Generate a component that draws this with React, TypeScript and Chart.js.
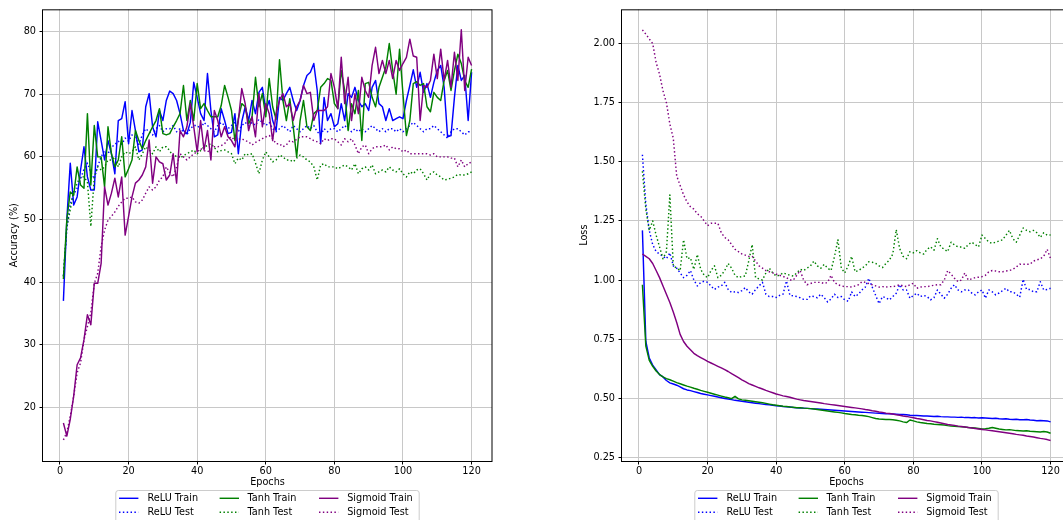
import React, { useEffect, useRef } from "react";
import { Chart, registerables } from "chart.js";

Chart.register(...registerables);

// ---- data -------------------------------------------------------------
const epochs = Array.from({ length: 120 }, (_, i) => i + 1);
const epochTicks = [0, 20, 40, 60, 80, 100, 120];
const accuracyTicks = [20, 30, 40, 50, 60, 70, 80];
const lossTicks = [0.25, 0.5, 0.75, 1.0, 1.25, 1.5, 1.75, 2.0];

const reluTrainAcc = [
  37.0, 50.0, 59.0, 52.3, 53.6, 57.9, 61.6, 56.8, 54.7, 54.7,
  65.6, 62.6, 59.5, 62.6, 60.5, 57.3, 65.8, 66.1, 68.8, 62.1,
  67.4, 64.2, 60.8, 61.1, 68.0, 70.1, 64.8, 63.2, 67.4, 65.8,
  69.0, 70.5, 70.1, 69.0, 66.9, 64.2, 63.7, 65.5, 71.9, 69.5,
  66.9, 65.8, 73.3, 67.4, 63.2, 63.5, 67.7, 65.8, 63.7, 63.9,
  66.9, 60.5, 65.6, 68.0, 65.8, 69.0, 66.9, 70.3, 71.1, 67.4,
  69.0, 65.8, 64.2, 69.5, 69.0, 70.1, 71.1, 69.0, 67.4, 69.0,
  71.4, 73.0, 73.5, 74.9, 70.6, 62.1, 69.5, 65.8, 66.9, 64.8,
  65.3, 68.5, 65.8, 70.1, 69.5, 71.1, 69.0, 68.0, 68.5, 67.4,
  71.1, 72.2, 68.5, 68.0, 65.8, 67.7, 65.8, 66.1, 66.4, 66.1,
  69.0, 71.4, 73.9, 71.1, 73.5, 70.3, 71.7, 69.5, 71.9, 73.8,
  74.6, 71.1, 63.2, 63.4, 69.5, 74.6, 72.2, 73.0, 65.8, 73.5,
];
const reluTestAcc = [
  41.0, 48.5, 52.5, 54.0, 55.0, 56.5, 58.0, 59.0, 57.5, 56.5,
  58.5, 60.0, 61.0, 60.5, 61.5, 62.0, 62.5, 62.0, 63.0, 62.5,
  63.5, 63.0, 62.0, 63.5, 64.5, 64.0, 63.5, 64.5, 65.0, 64.0,
  64.5, 64.5, 65.0, 64.0, 64.5, 64.0, 63.5, 64.5, 65.0, 65.0,
  64.5, 65.5, 65.0, 64.5, 64.0, 65.0, 65.5, 65.0, 64.5, 65.0,
  65.5, 64.0, 65.0, 65.5, 65.0, 65.5, 65.0, 66.0, 65.5, 65.0,
  65.5, 64.5, 64.0, 64.5, 65.0, 64.5, 64.0, 65.0, 64.5, 64.0,
  64.5, 65.0, 64.5, 65.0, 64.0, 63.5, 64.5, 64.0, 64.5, 64.5,
  64.0, 64.5, 65.0, 64.5, 64.0, 64.5, 64.0, 64.5, 64.0, 64.5,
  65.0, 64.5, 64.0, 64.5, 64.0, 64.5, 64.5, 64.0, 64.5, 64.0,
  64.5, 65.0, 65.5, 65.0, 64.5, 64.0, 64.5, 64.5, 65.0, 64.5,
  64.0, 63.5, 63.0, 64.0, 64.5, 64.5, 64.0, 63.5, 64.0, 64.0,
];
const tanhTrainAcc = [
  40.5, 50.0, 54.4, 53.9, 58.4, 55.5, 55.0, 66.9, 55.5, 65.0,
  60.0, 60.0, 55.2, 64.8, 60.5, 58.4, 59.5, 63.2, 56.8, 58.1,
  59.5, 64.2, 62.6, 61.3, 62.6, 63.7, 64.8, 65.8, 67.7, 63.7,
  63.5, 63.7, 64.8, 65.8, 66.9, 71.4, 65.8, 69.0, 65.8, 71.7,
  67.7, 68.5, 67.4, 66.4, 66.4, 66.4, 68.2, 71.4, 69.5, 67.4,
  62.6, 66.1, 68.5, 68.0, 65.3, 66.4, 72.7, 68.0, 70.1, 66.4,
  72.5, 68.0, 66.0, 75.5, 69.0, 65.8, 69.3, 64.8, 60.0, 65.8,
  69.0, 64.8, 64.2, 66.9, 67.4, 71.1, 71.7, 72.5, 72.2, 68.5,
  67.7, 73.8, 70.6, 64.2, 68.5, 66.9, 70.6, 62.6, 71.7, 71.9,
  69.5, 68.0, 71.1, 72.7, 74.3, 78.1, 73.8, 70.0, 77.2, 70.0,
  63.4, 65.8, 71.7, 72.0, 71.4, 71.7, 68.0, 67.2, 70.3, 69.5,
  69.0, 72.2, 73.8, 70.6, 73.8, 76.4, 74.9, 72.2, 71.1, 74.0,
];
const tanhTestAcc = [
  40.9, 48.9, 51.5, 54.7, 55.8, 56.8, 56.8, 56.0, 48.9, 56.8,
  58.4, 57.9, 58.4, 59.5, 59.5, 60.0, 58.4, 60.0, 60.8, 60.5,
  60.8, 61.6, 59.5, 60.5, 61.6, 61.1, 60.5, 61.6, 60.8, 61.6,
  61.6, 61.0, 60.0, 60.2, 59.8, 60.2, 60.5, 60.8, 61.1, 60.5,
  61.0, 61.6, 61.8, 62.1, 61.5, 60.8, 61.0, 61.1, 60.8, 60.5,
  58.9, 59.8, 59.5, 60.5, 60.3, 60.5, 59.0, 57.3, 59.5, 60.8,
  60.0, 59.2, 59.5, 60.3, 60.0, 59.5, 59.5, 59.2, 59.8, 60.3,
  60.0, 59.5, 59.2, 58.4, 56.3, 58.7, 58.9, 58.4, 58.4, 58.4,
  58.1, 58.4, 58.7, 58.4, 57.9, 58.9, 57.3, 58.1, 58.4, 57.9,
  58.7, 57.3, 57.6, 57.9, 57.6, 58.4, 57.9, 57.6, 58.1, 57.3,
  56.8, 57.6, 57.3, 57.9, 58.1, 57.3, 56.3, 57.3, 57.6, 57.1,
  56.8, 56.3, 56.4, 56.6, 56.8, 57.2, 57.1, 57.1, 57.3, 57.6,
];
const sigmoidTrainAcc = [
  17.5, 15.4, 18.1, 21.8, 26.8, 27.9, 30.8, 34.8, 33.2, 39.8,
  39.8, 43.0, 55.2, 52.3, 54.2, 56.6, 53.6, 56.8, 47.5, 50.5,
  53.6, 55.8, 56.3, 57.1, 58.4, 62.7, 55.8, 60.0, 59.2, 58.9,
  56.3, 57.1, 60.5, 55.8, 64.2, 63.2, 64.8, 68.5, 64.8, 60.8,
  65.8, 61.1, 64.2, 59.5, 67.4, 65.8, 63.2, 64.8, 63.2, 62.6,
  61.6, 65.8, 70.9, 68.5, 64.2, 66.4, 63.2, 70.1, 64.8, 68.5,
  66.9, 62.6, 66.9, 69.0, 70.1, 68.0, 68.5, 65.8, 68.0, 69.0,
  71.4, 70.1, 70.3, 65.8, 67.4, 67.4, 67.4, 68.0, 73.3, 71.1,
  67.7, 75.9, 68.5, 72.7, 65.8, 70.1, 66.9, 72.7, 70.6, 69.5,
  74.6, 77.5, 73.3, 75.4, 73.3, 75.4, 72.5, 75.4, 73.8, 74.9,
  75.9, 78.8, 76.1, 75.9, 65.8, 71.4, 71.1, 72.2, 76.4, 72.5,
  77.2, 72.2, 75.4, 71.1, 76.7, 72.2, 80.3, 70.6, 75.9, 74.6,
];
const sigmoidTestAcc = [
  14.8, 16.0, 18.6, 21.8, 25.5, 27.1, 30.8, 32.9, 35.1, 39.8,
  41.4, 45.7, 48.3, 49.9, 50.5, 51.2, 52.1, 52.8, 53.4, 53.4,
  53.6, 52.8, 52.6, 53.1, 54.2, 55.2, 54.7, 55.2, 56.3, 56.8,
  58.4, 57.5, 56.8, 58.4, 60.5, 60.0, 59.5, 60.0, 60.5, 60.8,
  61.3, 61.0, 60.8, 61.2, 61.6, 61.6, 61.8, 62.1, 62.9, 63.2,
  62.6, 62.8, 62.9, 62.6, 62.4, 61.9, 62.3, 62.6, 62.9, 63.2,
  63.4, 62.9, 62.1, 62.1, 61.6, 61.9, 62.6, 62.4, 62.8, 63.2,
  63.2, 63.2, 62.9, 62.6, 62.4, 62.1, 62.9, 62.6, 62.9, 62.9,
  62.4, 61.9, 62.9, 62.4, 62.9, 61.9, 60.5, 61.6, 61.9, 60.5,
  61.3, 61.6, 61.6, 61.6, 61.9, 61.1, 61.6, 61.3, 61.3, 60.8,
  61.1, 60.5, 60.5, 60.5, 60.5, 60.5, 60.5, 60.3, 60.5, 60.0,
  60.0, 60.0, 60.0, 59.8, 59.8, 58.4, 59.5, 58.4, 58.9, 59.2,
];

const reluTrainLoss = [
  1.21, 0.74, 0.67, 0.64, 0.62, 0.6, 0.59, 0.575, 0.565, 0.56,
  0.555, 0.548, 0.54, 0.535, 0.532, 0.528, 0.524, 0.52, 0.517, 0.514,
  0.511, 0.508, 0.505, 0.502, 0.499, 0.497, 0.494, 0.491, 0.489, 0.487,
  0.485, 0.483, 0.481, 0.479, 0.477, 0.475, 0.473, 0.472, 0.47, 0.468,
  0.467, 0.465, 0.464, 0.463, 0.461, 0.46, 0.459, 0.458, 0.457, 0.456,
  0.455, 0.454, 0.453, 0.452, 0.451, 0.45, 0.449, 0.448, 0.447, 0.446,
  0.445, 0.444, 0.443, 0.442, 0.441, 0.44, 0.439, 0.438, 0.437, 0.436,
  0.435, 0.434, 0.434, 0.433, 0.432, 0.431, 0.431, 0.43, 0.428, 0.427,
  0.427, 0.426, 0.425, 0.425, 0.424, 0.423, 0.424, 0.422, 0.421, 0.421,
  0.42, 0.42, 0.419, 0.42, 0.418, 0.418, 0.417, 0.418, 0.416, 0.417,
  0.416, 0.415, 0.414, 0.415, 0.413, 0.412, 0.413, 0.411, 0.41, 0.411,
  0.409, 0.409, 0.41, 0.408, 0.407, 0.405, 0.406, 0.405, 0.404, 0.4,
];
const reluTestLoss = [
  1.53, 1.32, 1.21, 1.15, 1.12, 1.11, 1.1, 1.09, 1.115, 1.06,
  1.05, 1.03, 1.01, 1.02, 1.04, 1.0, 0.975, 0.99, 0.995, 0.99,
  0.975, 0.96, 0.97, 0.975, 0.99, 0.96, 0.947, 0.95, 0.947, 0.955,
  0.968, 0.95, 0.94, 0.96, 0.975, 0.99, 0.94, 0.93, 0.93, 0.926,
  0.935, 0.94, 0.996, 0.935, 0.933, 0.93, 0.925, 0.918, 0.918, 0.933,
  0.93, 0.925, 0.94, 0.925, 0.907, 0.92, 0.94, 0.926, 0.93, 0.916,
  0.91, 0.95, 0.93, 0.94, 0.958, 0.97, 1.007, 0.97, 0.935, 0.9,
  0.93, 0.925, 0.916, 0.93, 0.944, 0.98, 0.958, 0.958, 0.923, 0.935,
  0.944, 0.93, 0.935, 0.93, 0.916, 0.925, 0.958, 0.94, 0.923, 0.94,
  0.965, 0.98, 0.958, 0.95, 0.958, 0.958, 0.945, 0.937, 0.95, 0.958,
  0.923, 0.958, 0.95, 0.937, 0.945, 0.955, 0.965, 0.95, 0.95, 0.94,
  0.927, 1.003, 0.96, 0.96, 0.95, 0.95, 0.993, 0.958, 0.96, 0.965,
];
const tanhTrainLoss = [
  0.98, 0.72, 0.66, 0.635, 0.615, 0.6, 0.59, 0.583, 0.578, 0.572,
  0.566, 0.561, 0.556, 0.551, 0.547, 0.542, 0.538, 0.533, 0.529, 0.525,
  0.521, 0.517, 0.513, 0.509, 0.505, 0.502, 0.498, 0.508, 0.497, 0.493,
  0.491, 0.489, 0.487, 0.485, 0.483, 0.481, 0.478, 0.475, 0.472, 0.47,
  0.468, 0.466, 0.465, 0.463, 0.462, 0.46, 0.46, 0.458, 0.457, 0.456,
  0.454, 0.452, 0.45, 0.448, 0.446, 0.444, 0.442, 0.44, 0.438, 0.435,
  0.433, 0.431, 0.43, 0.428, 0.427, 0.425, 0.422, 0.418, 0.414, 0.412,
  0.411, 0.41, 0.41, 0.409, 0.407, 0.404, 0.4, 0.397, 0.408, 0.404,
  0.4, 0.397, 0.395, 0.393, 0.392, 0.39, 0.389, 0.388, 0.387, 0.384,
  0.382, 0.381, 0.38, 0.379, 0.378, 0.376, 0.375, 0.374, 0.372, 0.37,
  0.371, 0.373, 0.376, 0.373, 0.37, 0.368, 0.366, 0.367, 0.365, 0.363,
  0.362, 0.361, 0.362, 0.36, 0.359, 0.358, 0.357, 0.359, 0.357, 0.352,
];
const tanhTestLoss = [
  1.46, 1.3, 1.21, 1.25, 1.19, 1.14, 1.09, 1.12, 1.36, 1.06,
  1.05, 1.04, 1.17, 1.09, 1.094, 1.045, 1.108, 1.045, 1.02, 1.01,
  1.04, 1.06, 1.01, 1.02, 1.04, 1.07, 1.05, 1.02, 1.01, 1.015,
  1.017, 1.08, 1.15, 1.01, 1.005, 1.0, 1.03, 1.05, 1.03, 1.017,
  1.02, 1.03, 1.025, 1.02, 1.017, 1.03, 1.045, 1.04, 1.05, 1.06,
  1.08, 1.06, 1.05, 1.066, 1.05, 1.04, 1.1, 1.17, 1.05, 1.03,
  1.06, 1.1, 1.035, 1.04, 1.05, 1.06, 1.077, 1.075, 1.07, 1.06,
  1.053, 1.07, 1.084, 1.11, 1.213, 1.133, 1.1, 1.09, 1.12, 1.115,
  1.124, 1.115, 1.11, 1.13, 1.14, 1.126, 1.175, 1.14, 1.13, 1.12,
  1.16, 1.148, 1.14, 1.14, 1.134, 1.15, 1.16, 1.15, 1.14, 1.19,
  1.175, 1.16, 1.155, 1.16, 1.165, 1.17, 1.19, 1.21, 1.175, 1.16,
  1.19, 1.22, 1.21, 1.204, 1.21, 1.2, 1.18, 1.2, 1.19, 1.19,
];
const sigmoidTrainLoss = [
  1.11, 1.1, 1.09, 1.07, 1.04, 1.01, 0.975, 0.94, 0.905, 0.865,
  0.82, 0.77, 0.74, 0.72, 0.705, 0.69, 0.68, 0.672, 0.664, 0.656,
  0.649, 0.642, 0.635, 0.628, 0.621, 0.613, 0.604, 0.596, 0.587, 0.578,
  0.57, 0.562, 0.556, 0.55, 0.544, 0.539, 0.533, 0.528, 0.523, 0.518,
  0.514, 0.51, 0.507, 0.504, 0.5, 0.496, 0.493, 0.49, 0.488, 0.486,
  0.484, 0.482, 0.48, 0.477, 0.475, 0.473, 0.471, 0.469, 0.467, 0.465,
  0.463, 0.461, 0.459, 0.457, 0.455, 0.452, 0.45, 0.447, 0.445, 0.442,
  0.44, 0.437, 0.435, 0.433, 0.43, 0.428, 0.425, 0.423, 0.42, 0.417,
  0.414, 0.412, 0.409, 0.406, 0.404, 0.401, 0.398, 0.395, 0.392, 0.389,
  0.387, 0.385, 0.382, 0.38, 0.378, 0.376, 0.374, 0.372, 0.37, 0.368,
  0.366, 0.364, 0.362, 0.36, 0.358, 0.356, 0.354, 0.352, 0.35, 0.347,
  0.345, 0.343, 0.34, 0.338, 0.336, 0.333, 0.33, 0.328, 0.325, 0.321,
];
const sigmoidTestLoss = [
  2.058, 2.04, 2.02, 2.0, 1.92, 1.87, 1.8, 1.75, 1.66, 1.6,
  1.44, 1.4, 1.36, 1.33, 1.31, 1.3, 1.28, 1.27, 1.25, 1.23,
  1.24, 1.24, 1.24, 1.2, 1.18, 1.17, 1.15, 1.13, 1.12, 1.11,
  1.105, 1.1, 1.1, 1.08, 1.06, 1.05, 1.04, 1.035, 1.03, 1.025,
  1.02, 1.015, 1.01, 1.0, 1.0, 1.02, 1.04, 1.0, 0.98, 0.985,
  0.99, 0.99, 0.99, 0.985, 0.99, 1.02, 0.99, 0.98, 0.975, 0.972,
  0.972, 0.97, 0.975, 0.98, 0.993, 0.99, 0.985, 0.98, 0.975, 0.97,
  0.972, 0.97, 0.972, 0.972, 0.975, 0.98, 0.975, 0.972, 0.98, 0.986,
  0.965, 0.97, 0.972, 0.972, 0.975, 0.978, 0.98, 0.98, 1.0, 1.04,
  1.025, 1.007, 0.993, 1.0, 1.03, 1.0, 1.005, 1.01, 1.012, 1.014,
  1.02, 1.035, 1.04, 1.038, 1.035, 1.035, 1.038, 1.04, 1.045, 1.055,
  1.067, 1.067, 1.067, 1.067, 1.08, 1.085, 1.09, 1.1, 1.13, 1.09,
];

// ---- styling ----------------------------------------------------------
const FONT_FAMILY = '"DejaVu Sans", "Liberation Sans", sans-serif';
const FONT_SIZE = 9.7;
const BLUE = "#0000ff";
const GREEN = "#008000";
const PURPLE = "#800080";
const GRID = "#c8c8c8";
const LINE_W = 1.45;
const DOT = [1.45, 2.4];

type Series = { label: string; values: number[]; color: string; dotted: boolean };

const accuracySeries: Series[] = [
  { label: "ReLU Train", values: reluTrainAcc, color: BLUE, dotted: false },
  { label: "ReLU Test", values: reluTestAcc, color: BLUE, dotted: true },
  { label: "Tanh Train", values: tanhTrainAcc, color: GREEN, dotted: false },
  { label: "Tanh Test", values: tanhTestAcc, color: GREEN, dotted: true },
  { label: "Sigmoid Train", values: sigmoidTrainAcc, color: PURPLE, dotted: false },
  { label: "Sigmoid Test", values: sigmoidTestAcc, color: PURPLE, dotted: true },
];

const lossSeries: Series[] = [
  { label: "ReLU Train", values: reluTrainLoss, color: BLUE, dotted: false },
  { label: "ReLU Test", values: reluTestLoss, color: BLUE, dotted: true },
  { label: "Tanh Train", values: tanhTrainLoss, color: GREEN, dotted: false },
  { label: "Tanh Test", values: tanhTestLoss, color: GREEN, dotted: true },
  { label: "Sigmoid Train", values: sigmoidTrainLoss, color: PURPLE, dotted: false },
  { label: "Sigmoid Test", values: sigmoidTestLoss, color: PURPLE, dotted: true },
];

const font = () => `${FONT_SIZE}px ${FONT_FAMILY}`;

// legend geometry: box width, handle starts and label starts per column
const LEGEND_W = 303.4;
const LEGEND_HANDLE_X = [3.2, 103.8, 203.2];
const LEGEND_TEXT_X = [31.7, 131.7, 231.4];
const LEGEND_HANDLE_LEN = 19.4;
const LEGEND_TOP = 490.5;
const LEGEND_ROWS = [498.3, 512.3];

// Frame, axis titles and a 3-column legend beneath the plot area.
function decorations(yTitle: string, yTitleX: number) {
  return {
    id: "decorations",
    afterDraw(chart: any) {
      const { ctx, chartArea: a } = chart;
      ctx.save();

      // axes frame (all four spines)
      ctx.strokeStyle = "#000";
      ctx.lineWidth = 1;
      ctx.strokeRect(a.left - 0.5, a.top + 0.5, a.right - a.left + 0.5, a.bottom - a.top);

      ctx.fillStyle = "#000";
      ctx.font = font();
      ctx.textBaseline = "middle";
      ctx.textAlign = "center";
      const cx = (a.left + a.right) / 2;
      ctx.fillText("Epochs", cx, 482.5);

      ctx.save();
      ctx.translate(yTitleX, (a.top + a.bottom) / 2);
      ctx.rotate(-Math.PI / 2);
      ctx.fillText(yTitle, 0, 0);
      ctx.restore();

      // legend: column-major, 2 rows x 3 columns
      const ds = chart.data.datasets;
      const x0 = cx - LEGEND_W / 2;
      const top = LEGEND_TOP;

      ctx.beginPath();
      const r = 2.5;
      const h = 34;
      ctx.moveTo(x0 + r, top);
      ctx.lineTo(x0 + LEGEND_W - r, top);
      ctx.arcTo(x0 + LEGEND_W, top, x0 + LEGEND_W, top + r, r);
      ctx.lineTo(x0 + LEGEND_W, top + h);
      ctx.lineTo(x0, top + h);
      ctx.lineTo(x0, top + r);
      ctx.arcTo(x0, top, x0 + r, top, r);
      ctx.fillStyle = "#ffffff";
      ctx.fill();
      ctx.strokeStyle = "#cccccc";
      ctx.lineWidth = 1;
      ctx.stroke();

      for (let c = 0; c < 3; c++) {
        for (let rIdx = 0; rIdx < 2; rIdx++) {
          const d = ds[2 * c + rIdx];
          const y = LEGEND_ROWS[rIdx];
          const hx = x0 + LEGEND_HANDLE_X[c];
          ctx.beginPath();
          ctx.strokeStyle = d.borderColor;
          ctx.lineWidth = LINE_W;
          ctx.setLineDash(d.borderDash || []);
          ctx.moveTo(hx, y);
          ctx.lineTo(hx + LEGEND_HANDLE_LEN, y);
          ctx.stroke();
          ctx.setLineDash([]);
          ctx.fillStyle = "#000";
          ctx.textAlign = "left";
          ctx.fillText(d.label, x0 + LEGEND_TEXT_X[c], y);
        }
      }
      ctx.restore();
    },
  };
}

type PanelSpec = {
  series: Series[];
  yMin: number;
  yMax: number;
  yTicks: number[];
  yFormat: (v: number) => string;
  yTitle: string;
  yTitleX: number;
  yAxisWidth: number;
  rightPad: number;
  height: number;
};

function buildConfig(p: PanelSpec): any {
  const tickFont = { family: FONT_FAMILY, size: FONT_SIZE };
  return {
    type: "line",
    data: {
      datasets: p.series.map((s, i) => ({
        label: s.label,
        data: s.values.map((v, k) => ({ x: epochs[k], y: v })),
        borderColor: s.color,
        backgroundColor: s.color,
        borderWidth: LINE_W,
        borderDash: s.dotted ? DOT : [],
        borderCapStyle: "butt",
        borderJoinStyle: "round",
        pointRadius: 0,
        tension: 0,
        fill: false,
        order: -i,
      })),
    },
    options: {
      responsive: false,
      maintainAspectRatio: false,
      devicePixelRatio: 1,
      animation: false,
      events: [],
      layout: { padding: { left: 0, top: 9, right: p.rightPad, bottom: 0 } },
      plugins: { legend: { display: false }, tooltip: { enabled: false }, title: { display: false } },
      scales: {
        x: {
          type: "linear",
          min: -4.95,
          max: 125.95,
          afterBuildTicks: (s: any) => {
            s.ticks = epochTicks.map((v) => ({ value: v }));
          },
          afterFit: (s: any) => {
            s.height = p.height - 461;
          },
          ticks: {
            color: "#000",
            font: tickFont,
            padding: 1.6,
            maxRotation: 0,
            autoSkip: false,
            callback: (v: number) => String(v),
          },
          grid: { color: GRID, lineWidth: 1, tickColor: "#000", tickLength: 3.5, tickWidth: 1 },
          border: { display: false },
        },
        y: {
          type: "linear",
          min: p.yMin,
          max: p.yMax,
          afterBuildTicks: (s: any) => {
            s.ticks = p.yTicks.map((v) => ({ value: v }));
          },
          afterFit: (s: any) => {
            s.width = p.yAxisWidth;
          },
          ticks: {
            color: "#000",
            font: tickFont,
            padding: 3.5,
            autoSkip: false,
            callback: (v: number) => p.yFormat(v),
          },
          grid: { color: GRID, lineWidth: 1, tickColor: "#000", tickLength: 3.5, tickWidth: 1 },
          border: { display: false },
        },
      },
    },
    plugins: [decorations(p.yTitle, p.yTitleX)],
  };
}

function Panel({ left, width, height, spec }: { left: number; width: number; height: number; spec: PanelSpec }) {
  const ref = useRef<HTMLCanvasElement>(null);
  useEffect(() => {
    const chart = new Chart(ref.current as HTMLCanvasElement, buildConfig(spec));
    return () => chart.destroy();
  }, []);
  return (
    <canvas
      ref={ref}
      width={width}
      height={height}
      style={{ position: "absolute", left, top: 0, width, height, display: "block" }}
    />
  );
}

const PANEL_H = 560;

const accuracySpec: PanelSpec = {
  series: accuracySeries,
  yMin: 11.43,
  yMax: 83.56,
  yTicks: accuracyTicks,
  yFormat: (v) => String(v),
  yTitle: "Accuracy (%)",
  yTitleX: 14.5,
  yAxisWidth: 43,
  rightPad: 531 - 492,
  height: PANEL_H,
};

const lossSpec: PanelSpec = {
  series: lossSeries,
  yMin: 0.2344,
  yMax: 2.145,
  yTicks: lossTicks,
  yFormat: (v) => v.toFixed(2),
  yTitle: "Loss",
  yTitleX: 584.5 - 531,
  yAxisWidth: 622 - 531,
  rightPad: 560 - (1071 - 531),
  height: PANEL_H,
};

export default function App() {
  return (
    <div
      style={{
        position: "absolute",
        left: 0,
        top: 0,
        width: 1063,
        height: 520,
        overflow: "hidden",
        background: "#ffffff",
      }}
    >
      <Panel left={0} width={531} height={PANEL_H} spec={accuracySpec} />
      <Panel left={531} width={560} height={PANEL_H} spec={lossSpec} />
    </div>
  );
}
